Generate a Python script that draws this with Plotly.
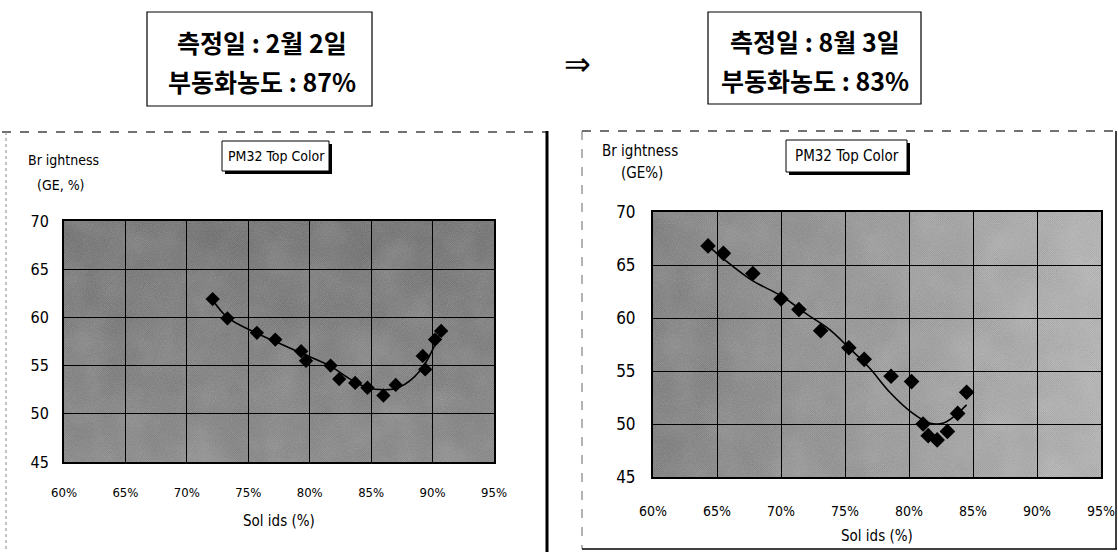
import base64
import plotly.graph_objects as go

# ---------------- data ----------------
x_ticks = [60, 65, 70, 75, 80, 85, 90, 95]
x_tick_labels = ["60%", "65%", "70%", "75%", "80%", "85%", "90%", "95%"]
y_ticks = [45, 50, 55, 60, 65, 70]

left_solids = [72.1, 73.3, 75.7, 77.2, 79.3, 79.7, 81.7, 82.4, 83.7, 84.7, 86.0, 87.0, 89.2, 89.4, 90.2, 90.7]
left_bright = [61.9, 59.9, 58.4, 57.7, 56.5, 55.5, 55.0, 53.6, 53.2, 52.7, 51.9, 53.0, 56.0, 54.6, 57.7, 58.6]
left_fit_x = [72.1, 73.3, 75.6, 77.2, 79.3, 81.6, 83.3, 84.7, 86.2, 87.2, 89.0, 90.7]
left_fit_y = [61.8, 60.0, 58.4, 57.5, 56.3, 55.0, 53.6, 52.7, 52.5, 52.7, 54.5, 58.6]

right_solids = [64.3, 65.5, 67.8, 70.0, 71.4, 73.1, 75.3, 76.5, 78.6, 80.2, 81.1, 81.5, 82.2, 83.0, 83.8, 84.5]
right_bright = [66.8, 66.1, 64.2, 61.8, 60.8, 58.8, 57.2, 56.1, 54.5, 54.0, 50.0, 48.9, 48.5, 49.3, 51.0, 53.0]
right_fit_x = [64.3, 66.0, 67.8, 70.0, 72.1, 73.8, 75.3, 76.9, 78.5, 80.2, 81.6, 82.7, 83.6, 84.5]
right_fit_y = [66.8, 65.1, 63.5, 62.1, 60.3, 58.9, 57.2, 55.3, 53.0, 51.1, 50.1, 50.1, 50.8, 51.8]

left_title = ["측정일 : 2월 2일", "부동화농도 : 87%"]
right_title = ["측정일 : 8월 3일", "부동화농도 : 83%"]
chart_label = "PM32 Top Color"
x_title = "Sol ids (%)"
left_ytitle = ["Br ightness", "(GE, %)"]
right_ytitle = ["Br ightness", "(GE%)"]

# ---------------- layout helpers ----------------
W, H = 1118, 552
def px(x):
    return x / W
def py(y):
    return 1 - y / H

NARROW = "DejaVu Sans Condensed, Liberation Sans Narrow, Roboto, sans-serif"
KR = "Noto Sans CJK KR, sans-serif"


def bg_svg(c0, c1, horizontal):
    x2, y2 = ("1", "0") if horizontal else ("0", "1")
    svg = (
        "<svg xmlns='http://www.w3.org/2000/svg' width='440' height='260' preserveAspectRatio='none'>"
        "<defs><linearGradient id='g' x1='0' y1='0' x2='%s' y2='%s'>"
        "<stop offset='0' stop-color='%s'/><stop offset='1' stop-color='%s'/></linearGradient>"
        "<pattern id='p' width='2' height='2' patternUnits='userSpaceOnUse'>"
        "<rect width='1' height='1' fill='#000'/><rect x='1' y='1' width='1' height='1' fill='#000'/></pattern>"
        "<filter id='n' x='0' y='0' width='100%%' height='100%%'>"
        "<feTurbulence type='fractalNoise' baseFrequency='0.8' numOctaves='2' seed='4'/>"
        "<feColorMatrix type='saturate' values='0'/></filter>"
        "<filter id='m' x='0' y='0' width='100%%' height='100%%'>"
        "<feTurbulence type='fractalNoise' baseFrequency='0.025' numOctaves='3' seed='7'/>"
        "<feColorMatrix type='saturate' values='0'/></filter></defs>"
        "<rect width='100%%' height='100%%' fill='url(#g)'/>"
        "<rect width='100%%' height='100%%' fill='url(#p)' opacity='0.15'/>"
        "<rect width='100%%' height='100%%' filter='url(#m)' opacity='0.25'/>"
        "<rect width='100%%' height='100%%' filter='url(#n)' opacity='0.3'/>"
        "</svg>" % (x2, y2, c0, c1)
    )
    return "data:image/svg+xml;base64," + base64.b64encode(svg.encode()).decode()


fig = go.Figure()

# ---------------- traces ----------------
fig.add_trace(go.Scatter(x=left_fit_x, y=left_fit_y, mode="lines", line=dict(color="black", width=1.6, shape="spline"),
                         xaxis="x", yaxis="y", hoverinfo="skip"))
fig.add_trace(go.Scatter(x=left_solids, y=left_bright, mode="markers",
                         marker=dict(symbol="diamond", size=11, color="black"), xaxis="x", yaxis="y"))
fig.add_trace(go.Scatter(x=right_fit_x, y=right_fit_y, mode="lines", line=dict(color="black", width=1.6, shape="spline"),
                         xaxis="x2", yaxis="y2", hoverinfo="skip"))
fig.add_trace(go.Scatter(x=right_solids, y=right_bright, mode="markers",
                         marker=dict(symbol="diamond", size=12, color="black"), xaxis="x2", yaxis="y2"))

axis_common = dict(showgrid=True, gridcolor="black", gridwidth=1, showline=True, linecolor="black", linewidth=2,
                   mirror=True, ticks="", zeroline=False, automargin=False)

fig.update_layout(
    width=W, height=H, margin=dict(l=0, r=0, t=0, b=0, autoexpand=False), showlegend=False,
    paper_bgcolor="white", plot_bgcolor="rgba(0,0,0,0)",
    xaxis=dict(domain=[px(64), px(494)], range=[60, 95], tickvals=x_ticks, ticktext=x_tick_labels,
               tickfont=dict(family=NARROW, size=13, color="black"), ticklabelstandoff=17, anchor="y", **axis_common),
    yaxis=dict(domain=[py(462), py(221)], range=[45, 70], tickvals=y_ticks,
               tickfont=dict(family=NARROW, size=16, color="black"), ticklabelstandoff=10, anchor="x", **axis_common),
    xaxis2=dict(domain=[px(653), px(1101)], range=[60, 95], tickvals=x_ticks, ticktext=x_tick_labels,
                tickfont=dict(family=NARROW, size=14, color="black"), ticklabelstandoff=20, anchor="y2", **axis_common),
    yaxis2=dict(domain=[py(477), py(212)], range=[45, 70], tickvals=y_ticks,
                tickfont=dict(family=NARROW, size=17, color="black"), ticklabelstandoff=12, anchor="x2", **axis_common),
)

fig.add_layout_image(dict(source=bg_svg("#6f6f6f", "#8a8a8a", False), xref="x", yref="y", x=60, y=70,
                          sizex=35, sizey=25, xanchor="left", yanchor="top", sizing="stretch", layer="below"))
fig.add_layout_image(dict(source=bg_svg("#7e7e7e", "#c0c0c0", True), xref="x2", yref="y2", x=60, y=70,
                          sizex=35, sizey=25, xanchor="left", yanchor="top", sizing="stretch", layer="below"))

P = dict(xref="paper", yref="paper")
shapes = []
# chart frames
shapes += [
    dict(type="line", x0=px(2), x1=px(547), y0=py(132), y1=py(132), line=dict(color="#444", width=1.3, dash="dash"), **P),
    dict(type="line", x0=px(6), x1=px(6), y0=py(132), y1=py(550), line=dict(color="#888", width=1, dash="dot"), **P),
    dict(type="line", x0=px(547), x1=px(547), y0=py(131), y1=py(552), line=dict(color="black", width=3), **P),
    dict(type="line", x0=px(582), x1=px(1117), y0=py(131), y1=py(131), line=dict(color="#444", width=1.3, dash="dash"), **P),
    dict(type="line", x0=px(582), x1=px(582), y0=py(131), y1=py(549), line=dict(color="#666", width=1, dash="dash"), **P),
    dict(type="line", x0=px(582), x1=px(1117), y0=py(549), y1=py(549), line=dict(color="black", width=1.5), **P),
    dict(type="line", x0=px(1116), x1=px(1116), y0=py(131), y1=py(549), line=dict(color="black", width=1.5), **P),
]
# title boxes
shapes += [
    dict(type="rect", x0=px(147), x1=px(372), y0=py(106), y1=py(12), line=dict(color="black", width=1.2), fillcolor="white", **P),
    dict(type="rect", x0=px(708), x1=px(921), y0=py(104), y1=py(12), line=dict(color="black", width=1.2), fillcolor="white", **P),
]
# chart label boxes with shadow
for (x0, x1, y0, y1) in [(222, 329, 141, 171), (786, 907, 140, 172)]:
    shapes.append(dict(type="rect", x0=px(x0 + 3), x1=px(x1 + 3), y0=py(y1 + 3), y1=py(y0 + 3),
                       line=dict(width=0), fillcolor="black", **P))
    shapes.append(dict(type="rect", x0=px(x0), x1=px(x1), y0=py(y1), y1=py(y0),
                       line=dict(color="black", width=1), fillcolor="white", **P))
fig.update_layout(shapes=shapes)

ann = []
def text(x, y, s, size, family=NARROW, bold=False):
    ann.append(dict(x=px(x), y=py(y), xref="paper", yref="paper", text=("<b>%s</b>" % s) if bold else s,
                    showarrow=False, font=dict(family=family, size=size, color="black"),
                    xanchor="center", yanchor="middle"))

text(262, 42, left_title[0], 25, KR, True)
text(262, 81, left_title[1], 25, KR, True)
text(815, 41, right_title[0], 25, KR, True)
text(815, 80, right_title[1], 25, KR, True)
text(578, 64, "⇒", 32, "DejaVu Sans")
text(276, 156, chart_label, 14)
text(847, 156, chart_label, 15)
text(63, 160, left_ytitle[0], 14)
text(61, 185, left_ytitle[1], 14)
text(640, 151, right_ytitle[0], 15)
text(642, 173, right_ytitle[1], 15)
text(279, 521, x_title, 15)
text(877, 536, x_title, 15)
fig.update_layout(annotations=ann)

fig.write_html("out.html", config={"displayModeBar": False},
               post_script="document.body.style.margin='0';document.body.style.padding='0';"
                           "document.body.style.overflow='hidden';")
